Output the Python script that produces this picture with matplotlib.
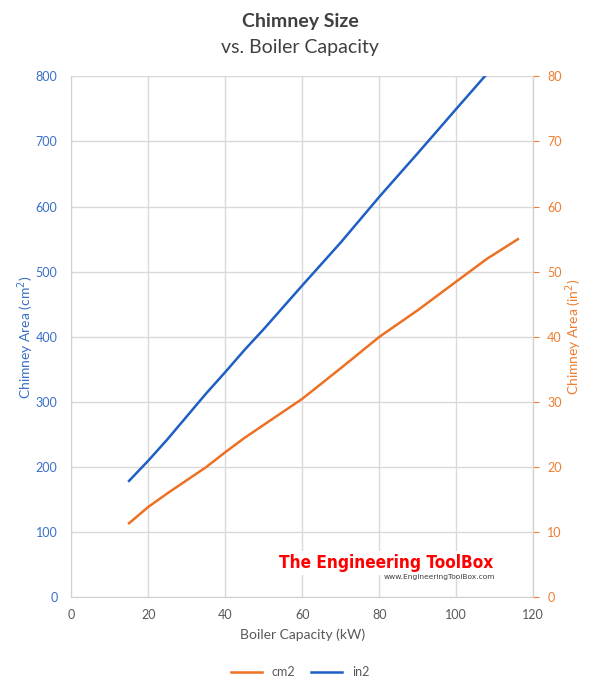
import matplotlib
matplotlib.use('Agg')
import matplotlib.pyplot as plt

plt.rcParams['font.family'] = ['Lato', 'DejaVu Sans']

# Boiler capacity (kW)
capacity = [15, 20, 25, 30, 35, 40, 45, 50, 60, 70, 80, 90, 100, 108, 116]
# Chimney area, cm2 (left axis)
area_cm2 = [114, 139, 160, 180, 200, 223, 245, 265, 305, 352, 400, 441, 485, 520, 550]
# Chimney area, in2 (right axis)
area_in2 = [17.9, 21.0, 24.3, 27.8, 31.3, 34.6, 38.0, 41.2, 47.9, 54.5, 61.5, 68.2, 75.0, 80.4, 85.3]

BLUE_LINE = '#1f5fc4'
ORANGE_LINE = '#ee7022'
BLUE_TXT = '#3a6fc6'
ORANGE_TXT = '#ee7d31'
GREY_TXT = '#595959'

fig = plt.figure(figsize=(6, 6.95), dpi=100)
ax = fig.add_axes([0.1188, 0.1403, 0.770, 0.7499])
ax2 = ax.twinx()

l1, = ax.plot(capacity, area_cm2, color=ORANGE_LINE, linewidth=1.8, label='cm2')
l2, = ax2.plot(capacity, area_in2, color=BLUE_LINE, linewidth=1.8, label='in2')

ax.set_xlim(0, 120)
ax.set_ylim(0, 800)
ax2.set_ylim(0, 80)
ax.set_xticks(range(0, 121, 20))
ax.set_yticks(range(0, 801, 100))
ax2.set_yticks(range(0, 81, 10))

ax.grid(True, color='#d9d9d9', linewidth=1)
ax.set_axisbelow(True)
for a in (ax, ax2):
    for s in a.spines.values():
        s.set_color('#d0d0d0')
    a.spines['top'].set_visible(False)
ax2.spines['left'].set_visible(False)
ax2.spines['bottom'].set_visible(False)

ax.tick_params(axis='x', colors=GREY_TXT, labelsize=9, length=0, pad=8)
ax.tick_params(axis='y', colors=BLUE_TXT, labelsize=9, length=0, pad=10)
ax2.tick_params(axis='y', colors=ORANGE_TXT, labelsize=9, length=4, pad=6)
for t in ax2.yaxis.get_ticklines():
    t.set_color('#d0d0d0')

ax.set_xlabel('Boiler Capacity (kW)', fontsize=10, color=GREY_TXT, labelpad=6)
ax.set_ylabel('Chimney Area (cm$^2$)', fontsize=10, color=BLUE_TXT)
ax2.set_ylabel('Chimney Area (in$^2$)', fontsize=10, color=ORANGE_TXT, rotation=90)
ax.yaxis.set_label_coords(-0.077, 0.5)
ax2.yaxis.set_label_coords(1.065, 0.5)

fig.text(0.5, 1 - 22 / 695, 'Chimney Size', ha='center', va='center',
         fontsize=14, fontweight='bold', color='#404040')
fig.text(0.5, 1 - 47 / 695, 'vs. Boiler Capacity', ha='center', va='center',
         fontsize=14, color='#404040')

# watermark
fig.text(493 / 600, 1 - 563 / 695, 'The Engineering ToolBox', ha='right', va='center',
         fontsize=12.3, fontweight='bold', color='#ff0000', fontstretch='condensed',
         family=['DejaVu Sans'],
         bbox=dict(facecolor='white', edgecolor='none', pad=2))
fig.text(495 / 600, 1 - 577 / 695, 'www.EngineeringToolBox.com', ha='right', va='center',
         fontsize=5.4, color='#404040', family=['DejaVu Sans'])

fig.legend([l1, l2], ['cm2', 'in2'], loc='center', bbox_to_anchor=(0.5, 1 - 672 / 695),
           ncol=2, frameon=False, fontsize=9, handlelength=2.5, columnspacing=1.2,
           labelcolor=GREY_TXT)

fig.savefig('out.png', dpi=100)
